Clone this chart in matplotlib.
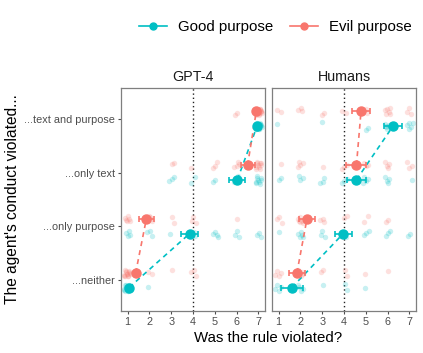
import numpy as np
import matplotlib.pyplot as plt
from matplotlib.lines import Line2D

# categories (bottom to top) and panels
categories = ["...neither", "...only purpose", "...only text", "...text and purpose"]
panels = ["GPT-4", "Humans"]
groups = ["Good purpose", "Evil purpose"]
ratings = [1, 2, 3, 4, 5, 6, 7]

# counts of raw responses per rating 1..7, rows follow categories
gpt4_good_counts = [[14, 1, 0, 0, 0, 0, 0],
                    [4, 3, 1, 3, 4, 3, 3],
                    [0, 0, 3, 2, 2, 4, 9],
                    [0, 0, 0, 0, 0, 0, 20]]
gpt4_evil_counts = [[14, 2, 1, 3, 0, 0, 0],
                    [6, 7, 2, 3, 0, 1, 0],
                    [0, 0, 2, 1, 3, 4, 10],
                    [0, 0, 0, 0, 0, 2, 18]]
human_good_counts = [[4, 4, 1, 2, 1, 0, 0],
                     [1, 5, 3, 3, 3, 3, 2],
                     [2, 3, 3, 3, 4, 4, 1],
                     [1, 0, 1, 0, 2, 6, 5]]
human_evil_counts = [[4, 5, 2, 2, 1, 1, 0],
                     [3, 6, 3, 2, 2, 2, 0],
                     [1, 4, 1, 3, 3, 4, 3],
                     [2, 3, 2, 2, 3, 6, 3]]

# means and error bar half widths
gpt4_good_mean = [1.07, 3.84, 6.03, 6.94]
gpt4_good_err = [0.05, 0.40, 0.37, 0.05]
gpt4_evil_mean = [1.37, 1.86, 6.50, 6.90]
gpt4_evil_err = [0.08, 0.34, 0.32, 0.06]
human_good_mean = [1.61, 3.96, 4.57, 6.25]
human_good_err = [0.50, 0.39, 0.44, 0.42]
human_evil_mean = [1.84, 2.30, 4.57, 4.78]
human_evil_err = [0.37, 0.38, 0.46, 0.40]

colors = {"Good purpose": "#00BFC4", "Evil purpose": "#F8766D"}
offsets = {"Good purpose": -0.135, "Evil purpose": 0.135}

data = {
    ("GPT-4", "Good purpose"): (gpt4_good_counts, gpt4_good_mean, gpt4_good_err),
    ("GPT-4", "Evil purpose"): (gpt4_evil_counts, gpt4_evil_mean, gpt4_evil_err),
    ("Humans", "Good purpose"): (human_good_counts, human_good_mean, human_good_err),
    ("Humans", "Evil purpose"): (human_evil_counts, human_evil_mean, human_evil_err),
}

plt.rcParams['font.family'] = ['Liberation Sans', 'DejaVu Sans']

fig = plt.figure(figsize=(4.23, 3.53), dpi=100)
W, H = 423.0, 353.0
ax1 = fig.add_axes([121 / W, 1 - 311 / H, 144 / W, 223 / H])
ax2 = fig.add_axes([272 / W, 1 - 311 / H, 144 / W, 223 / H])

golden = 0.6180339887


def jitter_seq(n, k):
    # deterministic spread for the raw points
    i = np.arange(n) + k * 7
    jx = ((i * golden) % 1.0) - 0.5
    jy = ((i * 0.7548776662 + 0.3) % 1.0) - 0.5
    return jx * 0.3, jy * 0.14


for ax, panel in zip([ax1, ax2], panels):
    for g in groups:
        counts, means, errs = data[(panel, g)]
        col = colors[g]
        k = 0
        for ci, row in enumerate(counts):
            for r, n in zip(ratings, row):
                if n == 0:
                    continue
                jx, jy = jitter_seq(n, k)
                k += 1
                ax.scatter(r + jx, ci + 1 + offsets[g] + jy, s=15, color=col,
                           alpha=0.22, linewidths=0, zorder=2)
        ys = np.arange(1, 5) + offsets[g]
        # dashed lines connect neither->only purpose and only text->text and purpose
        for a, b in [(0, 1), (2, 3)]:
            ax.plot([means[a], means[b]], [ys[a], ys[b]], color=col, lw=1.2,
                    dashes=(3, 2.5), zorder=3)
        ax.errorbar(means, ys, xerr=errs, fmt='o', color=col, ms=6.5,
                    elinewidth=1.2, capsize=2.5, capthick=1.2, zorder=4)
    ax.axvline(4, color='#222222', lw=1, linestyle=(0, (1, 2)), zorder=1)
    ax.set_xlim(0.7, 7.3)
    ax.set_ylim(0.43, 4.57)
    ax.set_xticks(ratings)
    ax.set_yticks([1, 2, 3, 4])
    ax.set_title(panel, fontsize=10.3, color='#1a1a1a', pad=5)
    for s in ax.spines.values():
        s.set_color('#7f7f7f')
        s.set_linewidth(0.9)
    ax.tick_params(colors='#4d4d4d', labelsize=7.8, length=2.5, width=0.8,
                   labelcolor='#4d4d4d', pad=2)

ax1.set_yticklabels(categories)
ax2.set_yticklabels([])
ax2.tick_params(axis='y', length=0)
ax1.set_ylabel("The agent's conduct violated...", fontsize=11.2, labelpad=3)
fig.text(268 / W, 1 - 338 / H, "Was the rule violated?", ha='center', va='center',
         fontsize=10.8)

handles = [Line2D([0], [0], color=colors[g], marker='o', ms=5, lw=1.2) for g in groups]
fig.legend(handles, groups, loc='center', bbox_to_anchor=(275 / W, 1 - 27 / H),
           ncol=2, frameon=False, fontsize=10.8, handlelength=1.9,
           columnspacing=1.1, handletextpad=0.7)

fig.savefig("out.png", dpi=100)
